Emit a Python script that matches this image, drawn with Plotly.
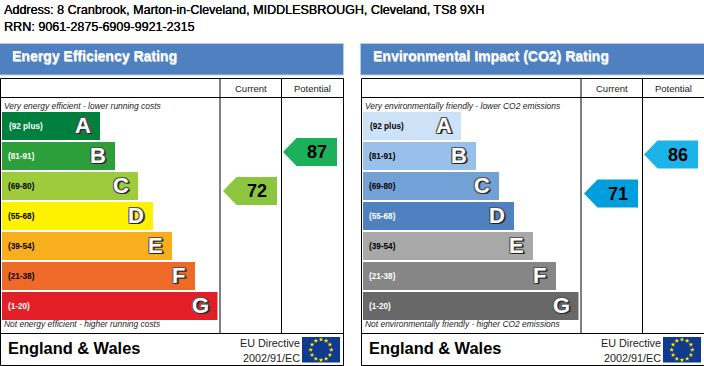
import math
import plotly.graph_objects as go

ADDRESS = "Address: 8 Cranbrook, Marton-in-Cleveland, MIDDLESBROUGH, Cleveland, TS8 9XH"
RRN = "RRN: 9061-2875-6909-9921-2315"
BANDS = ["A", "B", "C", "D", "E", "F", "G"]
RANGES = ["(92 plus)", "(81-91)", "(69-80)", "(55-68)", "(39-54)", "(21-38)", "(1-20)"]
BAND_LENGTHS = [98, 113, 136, 151, 170, 193, 215.5]
ENERGY_COLORS = ["#007f3e", "#2c9f3a", "#9dcb3c", "#fff200", "#f9ae1d", "#ef6a26", "#e41e27"]
ENERGY_RANGE_TEXT = ["#fff", "#fff", "#000", "#000", "#000", "#000", "#fff"]
CO2_COLORS = ["#cde2f6", "#98c0ea", "#72a1d5", "#4f81c1", "#a8a8a8", "#868686", "#686868"]
CO2_RANGE_TEXT = ["#000", "#000", "#000", "#fff", "#000", "#fff", "#fff"]
ENERGY_CURRENT, ENERGY_POTENTIAL = 72, 87
CO2_CURRENT, CO2_POTENTIAL = 71, 86
ENERGY_ARROWS = ["#8cc63f", "#1cb05b"]
CO2_ARROWS = ["#009fdc", "#1cb4e8"]

BLUE = "#4f81c1"
FONT = "Liberation Sans"
fig = go.Figure()
shapes, notes = [], []


def text(x, y, s, size, color="#000", anchor="left", bold=False, italic=False, shadow=None):
    notes.append(dict(
        x=x, y=y, text=s, showarrow=False, xanchor=anchor, yanchor="middle",
        borderpad=0, borderwidth=0,
        font=dict(family=FONT, size=size, color=color,
                  weight="bold" if bold else "normal",
                  style="italic" if italic else "normal",
                  shadow=shadow or "none"),
    ))


def rect(x0, y0, x1, y1, fill=None, line=None, width=1):
    shapes.append(dict(type="rect", x0=x0, y0=y0, x1=x1, y1=y1, layer="below",
                       fillcolor=fill or "rgba(0,0,0,0)",
                       line=dict(color=line or "rgba(0,0,0,0)", width=width if line else 0)))


def vline(x, y0, y1):
    shapes.append(dict(type="line", x0=x, x1=x, y0=y0, y1=y1, line=dict(color="#000", width=1)))


def hline(x0, x1, y):
    shapes.append(dict(type="line", x0=x0, x1=x1, y0=y, y1=y, line=dict(color="#000", width=1)))


LETTER_SHADOW = ("1px 1px 0 #222, -1px -1px 0 #555, 1px -1px 0 #555, "
                 "-1px 1px 0 #555, 2px 1px 0 #444")


def panel(x0, title, top, bottom, colors, range_text, current, potential, arrows):
    right = x0 + 343
    rect(x0 - 0.5, 43.5, right + 0.5, 75, BLUE, "#b9cde6", 1)
    text(x0 + 12, 56, title, 14, "#fff", bold=True, shadow="0.5px 0.5px 0 #c8d8ec")
    col1, col2 = x0 + 220, x0 + 281.5
    rect(x0 + 0.5, 78.5, right + 0.5, 365.5, None, "#000", 1)
    hline(x0 + 0.5, right + 0.5, 97.5)
    hline(x0 + 0.5, right + 0.5, 333.5)
    vline(col1, 78.5, 333.5)
    vline(col2, 78.5, 333.5)
    text(col1 + 31, 88, "Current", 9.5, "#222", "center")
    text(col2 + 31, 88, "Potential", 9.5, "#222", "center")
    text(x0 + 4, 106, top, 8.45, "#222", italic=True)
    text(x0 + 4, 324, bottom, 8.45, "#222", italic=True)

    ys = [126 + 30 * i for i in range(len(BANDS))]
    bar_x = x0 + 2
    fig.add_trace(go.Bar(
        y=ys, x=BAND_LENGTHS, base=bar_x, orientation="h", width=28,
        marker=dict(color=colors, line=dict(width=0)), showlegend=False, hoverinfo="skip",
    ))
    for i, band in enumerate(BANDS):
        text(bar_x + 5.5 + (1 if i == 0 else 0), ys[i], RANGES[i], 8.2, range_text[i], bold=True)
        text(bar_x + BAND_LENGTHS[i] - 17, ys[i] - 0.5, band, 22, "#fff", "center", bold=True,
             shadow=LETTER_SHADOW)

    for value, color, left in ((current, arrows[0], col1 + 3), (potential, arrows[1], col2 + 1.5)):
        cy = 152 + (ENERGY_POTENTIAL - value) * 2.6
        tip, shoulder, end = left, left + 13.5, left + 54
        fig.add_trace(go.Scatter(
            x=[tip, shoulder, end, end, shoulder, tip],
            y=[cy, cy - 14, cy - 14, cy + 14, cy + 14, cy],
            mode="lines", fill="toself", fillcolor=color, line=dict(width=0, color=color),
            showlegend=False, hoverinfo="skip",
        ))
        text(left + 33.5, cy, str(value), 18, "#000", "center", bold=True)

    text(x0 + 8, 347.5, "England &amp; Wales", 16.4, "#000", bold=True)
    text(x0 + 300, 343, "EU Directive", 10.8, "#222", "right")
    text(x0 + 300, 358, "2002/91/EC", 10.8, "#222", "right")
    rect(x0 + 302, 337, x0 + 340, 362.5, "#0f3a8e")
    cx, cy = x0 + 321, 349.8
    sx = [cx + 10.3 * math.sin(math.radians(30 * k)) for k in range(12)]
    sy = [cy - 10.3 * math.cos(math.radians(30 * k)) for k in range(12)]
    fig.add_trace(go.Scatter(
        x=sx, y=sy, mode="markers",
        marker=dict(symbol="star", size=3.6, color="#ffe600", line=dict(width=0)),
        showlegend=False, hoverinfo="skip",
    ))


text(4, 9.5, ADDRESS, 12.55, "#000", shadow="0.3px 0 0 #000")
text(4, 26.5, RRN, 12.55, "#000", shadow="0.3px 0 0 #000")

panel(0, "Energy Efficiency Rating",
      "Very energy efficient - lower running costs",
      "Not energy efficient - higher running costs",
      ENERGY_COLORS, ENERGY_RANGE_TEXT, ENERGY_CURRENT, ENERGY_POTENTIAL, ENERGY_ARROWS)
panel(361, "Environmental Impact (CO2) Rating",
      "Very environmentally friendly - lower CO2 emissions",
      "Not environmentally friendly - higher CO2 emissions",
      CO2_COLORS, CO2_RANGE_TEXT, CO2_CURRENT, CO2_POTENTIAL, CO2_ARROWS)

fig.update_layout(
    width=704, height=366, margin=dict(l=0, r=0, t=0, b=0),
    paper_bgcolor="#fff", plot_bgcolor="#fff", showlegend=False, barmode="overlay",
    xaxis=dict(range=[0, 704], visible=False, fixedrange=True),
    yaxis=dict(range=[366, 0], visible=False, fixedrange=True),
    shapes=shapes, annotations=notes,
)
fig.write_html("out.html", config={"displayModeBar": False, "responsive": False},
               post_script="document.body.style.margin='0';document.body.style.overflow='hidden';")
